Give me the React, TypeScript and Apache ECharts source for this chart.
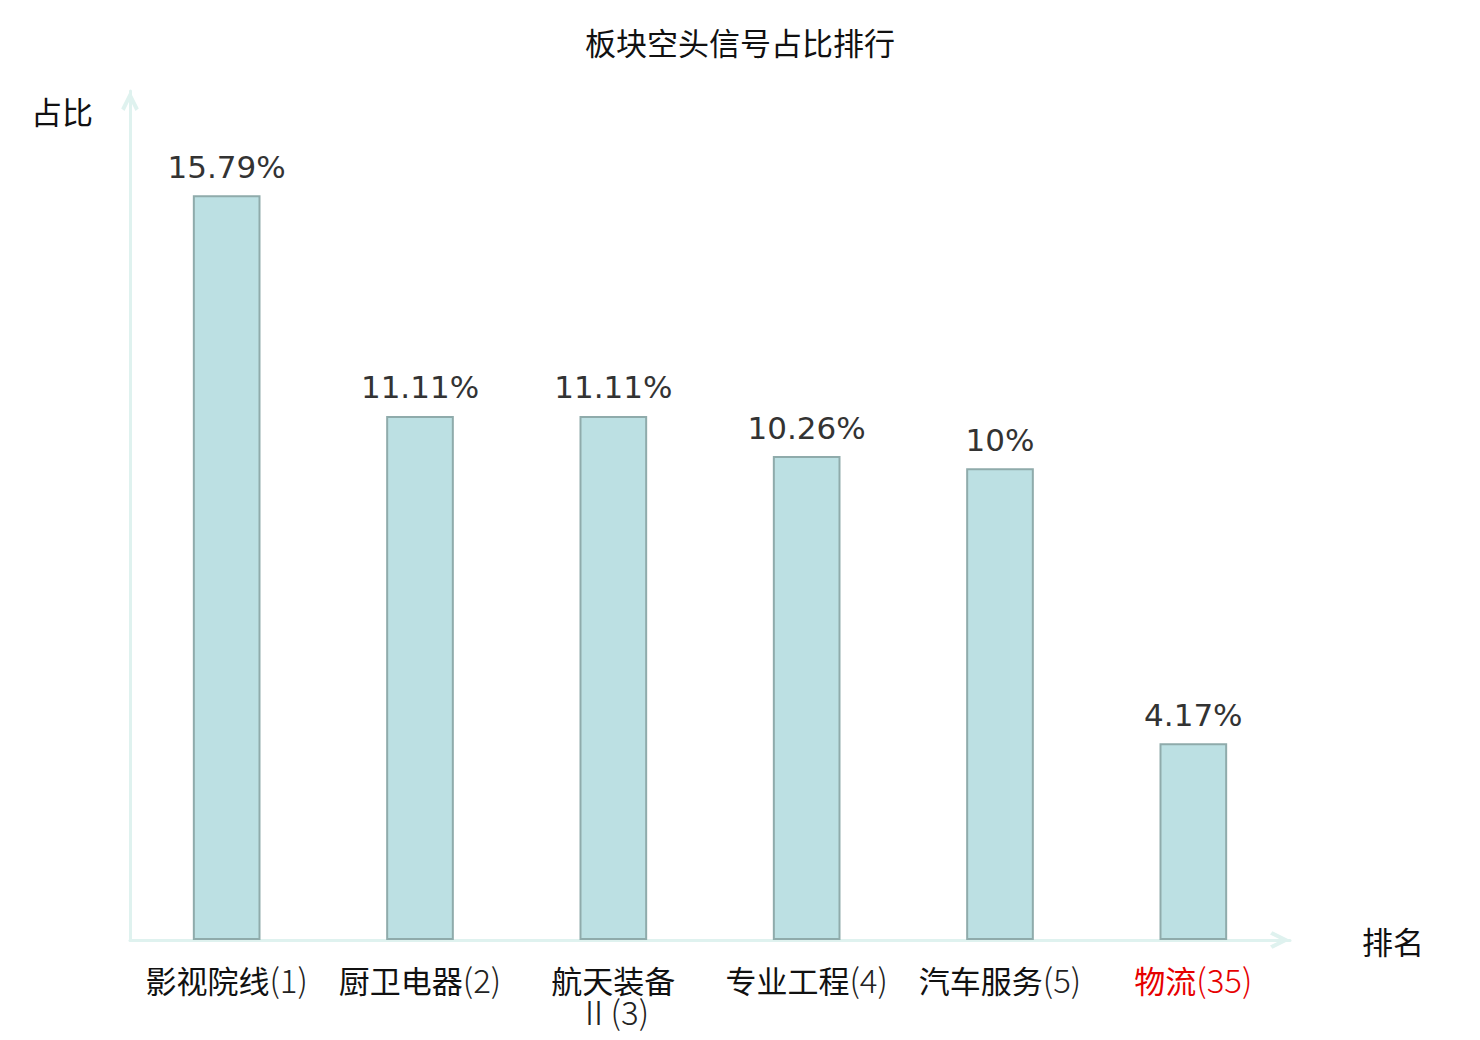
import React, { useEffect, useRef } from "react";
import * as echarts from "echarts";

const categories = ["影视院线(1)", "厨卫电器(2)", "航天装备\nⅡ(3)", "专业工程(4)", "汽车服务(5)", "物流(35)"];
const values = [15.79, 11.11, 11.11, 10.26, 10, 4.17];
const highlightIndex = 5;

const arrowPath = "path://M0,10 L5,0 L10,10 L8.1,11.4 L5,5 L1.9,11.4 Z";

export default function App() {
  const ref = useRef<HTMLDivElement>(null);
  useEffect(() => {
    const chart = echarts.init(ref.current!, undefined, { renderer: "svg" });
    const axisLine = {
      show: true,
      symbol: ["none", arrowPath],
      symbolSize: [24, 20],
      symbolOffset: [0, -10],
      lineStyle: { color: "#dff2ef", width: 3 },
    };
    const base = { fontSize: 31, lineHeight: 32, fontFamily: "Noto Sans CJK SC" };
    chart.setOption({
      animation: false,
      backgroundColor: "#fff",
      title: {
        text: "板块空头信号占比排行",
        left: "center",
        top: 13,
        textStyle: { fontSize: 31, fontWeight: "normal", color: "#111", fontFamily: "Noto Sans CJK SC" },
      },
      grid: { left: 122, right: 182, top: 83, bottom: 100, containLabel: false },
      xAxis: {
        type: "category",
        data: categories,
        name: "排名",
        nameLocation: "end",
        nameGap: 72,
        nameTextStyle: { fontSize: 31, color: "#111", align: "left", verticalAlign: "middle", fontFamily: "Noto Sans CJK SC" },
        axisLine,
        axisTick: { show: false },
        axisLabel: {
          interval: 0,
          margin: 23,
          ...base,
          formatter: (v: string, i: number) => {
            const k = v.search(/[Ⅱ(]/);
            const head = k < 0 ? v : v.slice(0, k);
            const tail = k < 0 ? "" : v.slice(k);
            const hi = i === highlightIndex;
            return `{${hi ? "rn" : "n"}|${head}}` + (tail ? `{${hi ? "rd" : "d"}|${tail}}` : "");
          },
          rich: {
            n: { ...base, color: "#111", fontWeight: 400 },
            d: { ...base, fontSize: 33, color: "#222", fontWeight: 300 },
            rn: { ...base, color: "#e60000", fontWeight: 400 },
            rd: { ...base, fontSize: 33, color: "#e60000", fontWeight: 300 },
          },
        },
      },
      yAxis: {
        type: "value",
        min: 0,
        max: 18,
        name: "占比",
        nameLocation: "end",
        nameGap: -19,
        nameTextStyle: { fontSize: 31, color: "#111", align: "right", verticalAlign: "middle", padding: [0, 37, 0, 0], fontFamily: "Noto Sans CJK SC" },
        axisLine,
        axisTick: { show: false },
        axisLabel: { show: false },
        splitLine: { show: false },
      },
      series: [
        {
          type: "bar",
          data: values,
          barWidth: "35%",
          itemStyle: { color: "#bce0e3", borderColor: "#8fabab", borderWidth: 2 },
          label: {
            show: true,
            position: "top",
            distance: 13,
            fontSize: 31,
            color: "#333",
            fontFamily: "DejaVu Sans",
            formatter: (p: any) => p.value + "%",
          },
        },
      ],
    });
    return () => chart.dispose();
  }, []);
  return <div ref={ref} style={{ width: 1464, height: 1032 }} />;
}
